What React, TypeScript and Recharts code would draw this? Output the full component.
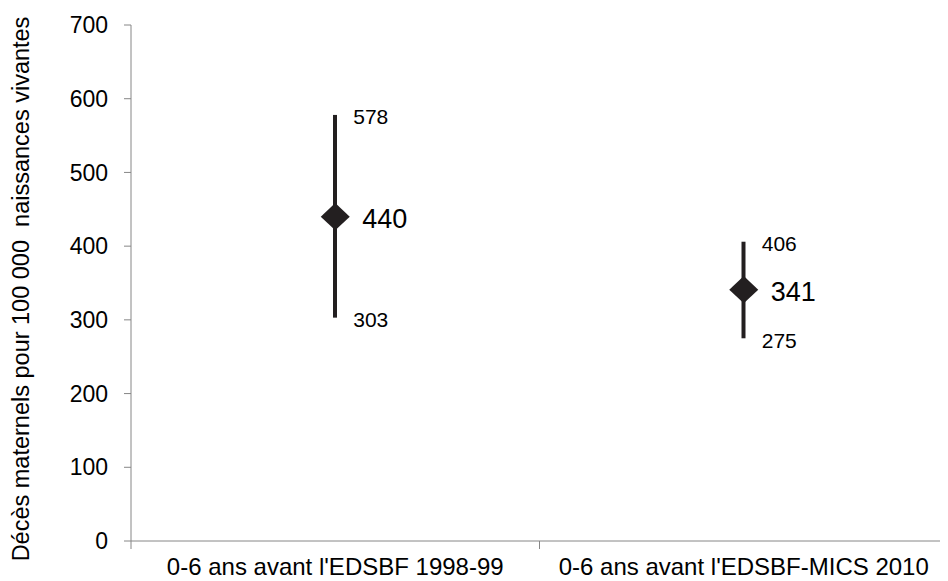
import React from 'react'
import { ComposedChart, Bar, Line, XAxis, YAxis, LabelList } from 'recharts'

const categories = ["0-6 ans avant l'EDSBF 1998-99", "0-6 ans avant l'EDSBF-MICS 2010"]
const estimates = [440, 341]
const lowerBounds = [303, 275]
const upperBounds = [578, 406]
const yTicks = [0, 100, 200, 300, 400, 500, 600, 700]
const yTitle = 'Décès maternels pour 100 000  naissances vivantes'

const FONT = '"Liberation Sans", Arial, sans-serif'
const AXIS = '#868686'
const MARK = '#231f20'

const data = categories.map((name, i) => ({
  name,
  estimate: estimates[i],
  low: lowerBounds[i],
  high: upperBounds[i],
  range: [lowerBounds[i], upperBounds[i]],
}))

const Diamond = (props: any) => {
  const { cx, cy, index } = props
  if (cx == null || cy == null) return null
  const w = 14.5
  const h = 13.7
  return (
    <polygon
      key={`d-${index}`}
      points={`${cx - w},${cy} ${cx},${cy - h} ${cx + w},${cy} ${cx},${cy + h}`}
      fill={MARK}
    />
  )
}

const sideLabel = (dx: number, size: number) => (props: any) => {
  const { x, y, value, index } = props
  return (
    <text
      key={`l-${index}`}
      x={x + dx}
      y={y + 2}
      dominantBaseline="central"
      fontSize={size}
      fontFamily={FONT}
      fill="#000"
    >
      {value}
    </text>
  )
}

const CategoryTick = (props: any) => {
  const { x, y, payload, index } = props
  const half = payload.offset || 204
  const last = index === categories.length - 1
  return (
    <g>
      <line x1={x - half} y1={y} x2={x - half} y2={y + 8} stroke={AXIS} />
      {last && <line x1={x + half} y1={y} x2={x + half} y2={y + 8} stroke={AXIS} />}
      <text x={x} y={y + 34} textAnchor="middle" fontSize={24} fontFamily={FONT} fill="#000">
        {payload.value}
      </text>
    </g>
  )
}

const YTitle = (props: any) => {
  const { viewBox } = props
  const cx = viewBox.x + 13
  const cy = viewBox.y + viewBox.height / 2 + 6
  return (
    <text
      x={cx}
      y={cy}
      transform={`rotate(-90, ${cx}, ${cy})`}
      textAnchor="middle"
      dominantBaseline="central"
      fontSize={23.5}
      fontFamily={FONT}
      fill="#000"
      style={{ whiteSpace: 'pre' }}
    >
      {yTitle}
    </text>
  )
}

export default function App() {
  return (
    <ComposedChart
      width={940}
      height={573}
      data={data}
      margin={{ top: 17, right: 0, bottom: 0, left: 0 }}
    >
      <XAxis
        dataKey="name"
        height={40}
        interval={0}
        tickLine={false}
        tickSize={0}
        tickMargin={0}
        axisLine={{ stroke: AXIS }}
        tick={<CategoryTick />}
      />
      <YAxis
        width={123}
        domain={[0, 700]}
        ticks={yTicks}
        tickSize={7}
        tickMargin={16}
        axisLine={{ stroke: AXIS }}
        tickLine={{ stroke: AXIS }}
        tick={{ fill: '#000', fontSize: 23, fontFamily: FONT }}
        label={<YTitle />}
      />
      <Bar dataKey="range" barSize={4} fill={MARK} isAnimationActive={false} />
      <Line
        dataKey="high"
        stroke="none"
        dot={false}
        activeDot={false}
        isAnimationActive={false}
      >
        <LabelList dataKey="high" content={sideLabel(18, 21)} />
      </Line>
      <Line
        dataKey="low"
        stroke="none"
        dot={false}
        activeDot={false}
        isAnimationActive={false}
      >
        <LabelList dataKey="low" content={sideLabel(18, 21)} />
      </Line>
      <Line
        dataKey="estimate"
        stroke="none"
        dot={<Diamond />}
        activeDot={false}
        isAnimationActive={false}
      >
        <LabelList dataKey="estimate" content={sideLabel(27, 27)} />
      </Line>
    </ComposedChart>
  )
}
